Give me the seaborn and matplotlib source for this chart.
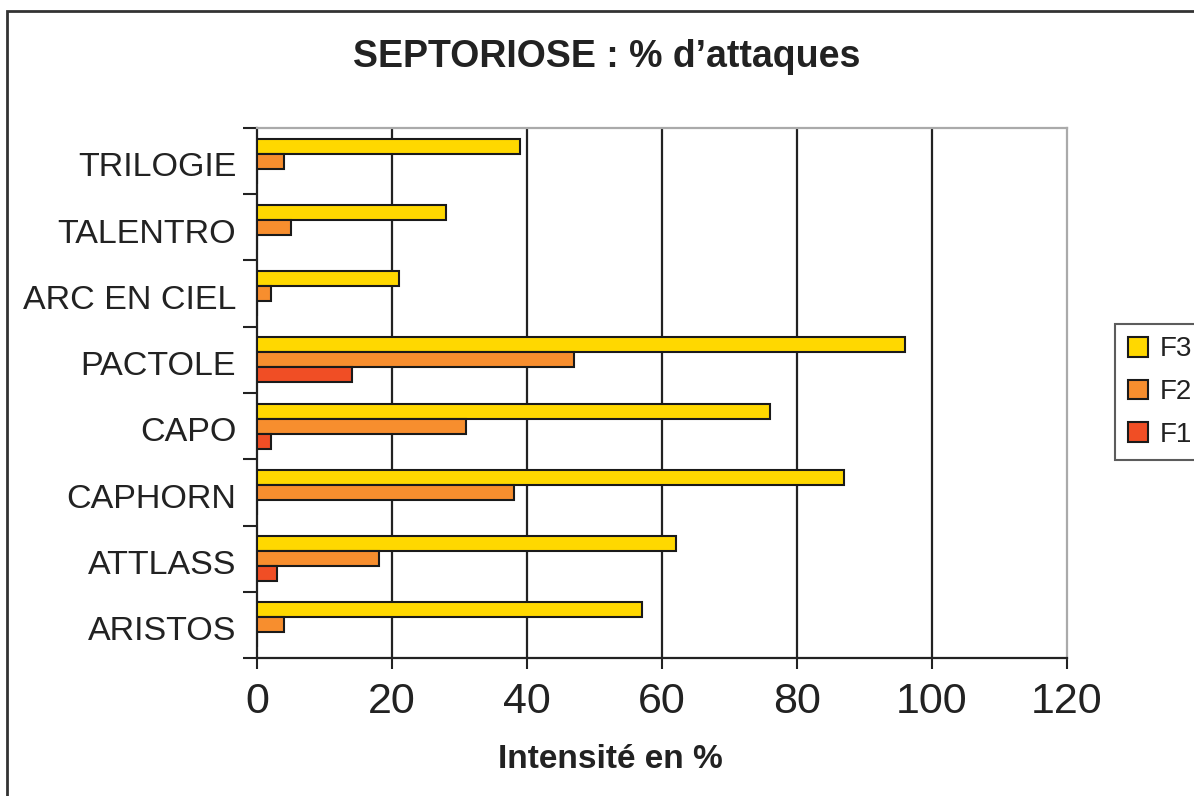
import numpy as np
import pandas as pd
import matplotlib
matplotlib.use("Agg")
import matplotlib.pyplot as plt
import seaborn as sns
from matplotlib.patches import Rectangle

varieties = ["TRILOGIE", "TALENTRO", "ARC EN CIEL", "PACTOLE", "CAPO", "CAPHORN", "ATTLASS", "ARISTOS"]
f3 = [39, 28, 21, 96, 76, 87, 62, 57]
f2 = [4, 5, 2, 47, 31, 38, 18, 4]
f1 = [0, 0, 0, 14, 2, 0, 3, 0]
series = ["F3", "F2", "F1"]
colors = ["#FFD800", "#F78E2E", "#F04E25"]
xticks = [0, 20, 40, 60, 80, 100, 120]

rows = []
for name, vals in zip(series, [f3, f2, f1]):
    for v, val in zip(varieties, vals):
        rows.append({"variety": v, "value": val, "series": name})
df = pd.DataFrame(rows)

sns.set_style("white")
plt.rcParams["font.family"] = ["Liberation Sans", "DejaVu Sans"]

fig = plt.figure(figsize=(11.94, 7.96), dpi=100)
ax = fig.add_axes([257/1194, 1-658/796, (1067-257)/1194, (658-128)/796])

sns.barplot(data=df, y="variety", x="value", hue="series", hue_order=series,
            order=varieties, orient="h", palette=colors, saturation=1, edgecolor="#1a1a1a",
            linewidth=1.5, width=0.68, ax=ax, legend=True, zorder=3)

ax.set_xlim(0, 120)
ax.set_ylim(len(varieties) - 0.5, -0.5)
ax.set_xticks(xticks)
ax.set_xticklabels([str(t) for t in xticks], fontsize=31, color="#222222")
ax.tick_params(axis="x", direction="out", length=8, width=1.5, pad=9, color="#222222", bottom=True)

ax.set_yticks(np.arange(len(varieties) + 1) - 0.5)
ax.set_yticklabels([])
ax.tick_params(axis="y", which="major", direction="out", length=10, width=1.5, color="#222222", left=True)
ax.set_yticks(np.arange(len(varieties)) + 0.05, minor=True)
ax.set_yticklabels(varieties, minor=True, fontsize=24.5, color="#222222")
ax.tick_params(axis="y", which="minor", length=0, pad=15)

ax.grid(False)
for t in xticks[1:-1]:
    ax.axvline(t, color="#222222", lw=1.6, zorder=1)

ax.set_xlabel("")
ax.set_ylabel("")
for s in ["left", "bottom"]:
    ax.spines[s].set_color("#222222")
    ax.spines[s].set_linewidth(1.6)
for s in ["top", "right"]:
    ax.spines[s].set_color("#aaaaaa")
    ax.spines[s].set_linewidth(1.6)

handles, labels = ax.get_legend_handles_labels()
ax.get_legend().remove()
leg = fig.legend(handles, labels, loc="upper left", bbox_to_anchor=(1115/1194, 1-324/796),
                 fontsize=20, frameon=True, fancybox=False, handlelength=0.72, handleheight=0.72,
                 labelspacing=0.6, handletextpad=0.45, borderpad=0.45, borderaxespad=0)
leg.get_frame().set_edgecolor("#333333")
leg.get_frame().set_linewidth(1.5)
for txt in leg.get_texts():
    txt.set_color("#222222")

fig.text(607/1194, 1-57/796, "SEPTORIOSE : % d\u2019attaques", ha="center", va="center",
         fontsize=27, fontweight="bold", color="#222222")
fig.text(610/1194, 1-760/796, "Intensit\u00e9 en %", ha="center", va="center",
         fontsize=24, fontweight="bold", color="#222222")

fig.patches.append(Rectangle((7/1194, -0.05), 1.1, 1 - 11/796 + 0.05, transform=fig.transFigure,
                             fill=False, edgecolor="#333333", linewidth=2))

fig.savefig("out.png", dpi=100)
